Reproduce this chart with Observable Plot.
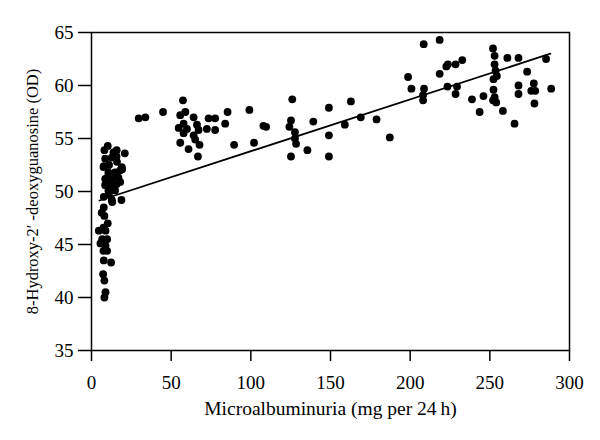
<!DOCTYPE html>
<html>
<head>
<meta charset="utf-8">
<script src="https://cdn.jsdelivr.net/npm/d3@7"></script>
<script src="https://cdn.jsdelivr.net/npm/@observablehq/plot@0.6"></script>
<style>
  html, body { margin: 0; padding: 0; background: #fff; }
</style>
</head>
<body>
<div id="chart"></div>
<script>
// Microalbuminuria (mg per 24 h)
const albumin = [
  10.2, 8.1, 13.8, 15.8, 8.6, 12.7, 7.5, 19, 18, 10.6, 14.8, 8.6, 12.7, 16.9, 8.6, 11.7, 15.8, 18, 10.6, 14.8,
  7.7, 12.7, 13, 18.8, 20.9, 15.7, 7.7, 19.2, 9.8, 8.8, 11, 16, 13.5, 11,
  7.7, 8.1, 10.2, 7.5, 4.6, 8.8, 6.7, 9.8, 5.6, 8.8, 9.8, 7.5, 7.7, 12.3, 7.3, 8.1, 8.8, 8.1, 6.4,
  29.6, 33.8, 44.9, 57.4, 58.9, 55.7, 64.1, 73.5, 77.6, 85.4, 83.9, 54.7, 57.8, 59.9, 66.2, 67.2, 72.4, 77.6,
  64.1, 57.8, 65.1, 55.7, 67.8, 60.9, 66.8, 89.5, 99.1, 102, 107.9, 109.6,
  126, 125.2, 124.2, 127.7, 127.7, 128.4, 125.2, 135.5, 139.2, 149, 149, 149, 159, 162.8, 169, 178.9, 187.2,
  208.5, 218.5, 198.7, 200.8, 218.5, 223.7, 222.7, 228.5, 232.7, 208.7, 208.1, 208.1, 223.4, 229.4, 228.5,
  238.8, 243.6, 246, 252, 253, 253, 253.6, 252.3, 254.4, 261, 268, 285.3, 273.4, 252.3, 253, 252, 254,
  258.2, 268, 268, 277.6, 276, 278, 278.5, 288.5, 265.5
];
// 8-Hydroxy-2'-deoxyguanosine (OD)
const ohdg = [
  54.3, 53.9, 53.7, 53.9, 53.1, 53.2, 52.3, 52.3, 52.0, 51.8, 51.8, 51.2, 51.2, 51.3, 50.6, 50.6, 50.7, 50.9, 50.1, 50.1,
  49.5, 49.2, 49.0, 49.2, 53.6, 53.3, 52.4, 52.1, 51.3, 50.7, 52.5, 52.8, 50.3, 49.8,
  48.5, 47.7, 47.0, 46.6, 46.3, 46.3, 45.5, 45.5, 45.1, 44.9, 44.4, 44.4, 43.5, 43.3, 42.2, 41.6, 40.5, 40.0, 48.0,
  56.9, 57.0, 57.5, 58.6, 57.5, 57.2, 57.0, 56.9, 56.9, 57.5, 56.4, 56.0, 56.4, 55.9, 56.3, 55.8, 55.9, 55.8,
  55.3, 55.5, 54.9, 54.6, 54.4, 54.0, 53.3, 54.4, 57.7, 54.6, 56.2, 56.1,
  58.7, 56.7, 56.1, 55.6, 55.0, 54.5, 53.3, 53.9, 56.6, 57.9, 55.3, 53.3, 56.3, 58.5, 57.0, 56.8, 55.1,
  63.9, 64.3, 60.8, 59.7, 61.1, 62.0, 61.8, 62.0, 62.4, 59.7, 59.1, 58.6, 59.9, 59.9, 59.2,
  58.7, 57.5, 59.0, 63.5, 62.8, 62.0, 61.4, 60.6, 60.9, 62.6, 62.6, 62.5, 61.3, 59.6, 58.9, 58.6, 58.4,
  57.6, 60.0, 59.2, 60.2, 59.5, 58.3, 59.5, 59.7, 56.4
];
// regression line end points
const fitX = [5, 288];
const fitY = [49.15, 63.0];

const xTicks = [0, 50, 100, 150, 200, 250, 300];
const yTicks = [35, 40, 45, 50, 55, 60, 65];
const xLabel = "Microalbuminuria (mg per 24\u2009h)";
const yLabel = "8-Hydroxy-2\u2032 -deoxyguanosine (OD)";

const points = albumin.map((v, i) => ({x: v, y: ohdg[i]}));
const fit = fitX.map((v, i) => ({x: v, y: fitY[i]}));

const chart = Plot.plot({
  width: 600,
  height: 440,
  marginLeft: 91,
  marginRight: 31,
  marginTop: 32,
  marginBottom: 90,
  style: {fontFamily: "'Liberation Serif', serif", fontSize: "19px", color: "#000", background: "#fff"},
  x: {domain: [0, 300], label: null},
  y: {domain: [35, 65], label: null},
  marks: [
    Plot.frame({stroke: "#000", strokeWidth: 1.5}),
    Plot.axisX({ticks: xTicks, tickSize: 11, tickPadding: 14, strokeWidth: 1.5, label: null, tickFormat: d => String(d)}),
    Plot.axisY({ticks: yTicks, tickSize: 13, tickPadding: 5, strokeWidth: 1.5, label: null, tickFormat: d => String(d)}),
    Plot.line(fit, {x: "x", y: "y", stroke: "#000", strokeWidth: 1.8}),
    Plot.dot(points, {x: "x", y: "y", r: 3.9, fill: "#000", stroke: "none"}),
    Plot.text([xLabel], {frameAnchor: "bottom", dy: 64, fontSize: 19.5, fill: "#000", textAnchor: "middle"}),
    Plot.text([yLabel], {frameAnchor: "left", dx: -59, rotate: -90, fontSize: 16.5, fill: "#000", textAnchor: "middle"})
  ]
});
document.getElementById("chart").appendChild(chart);
</script>
</body>
</html>
